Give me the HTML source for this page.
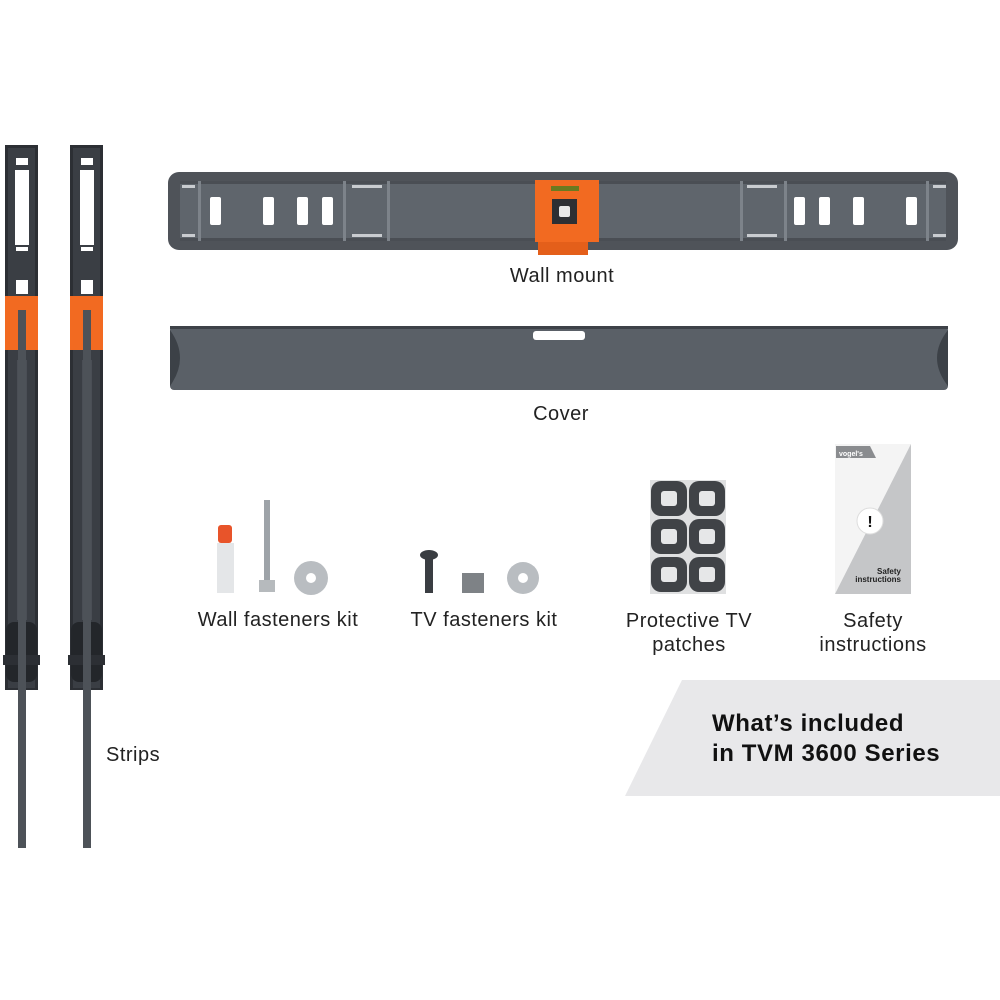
<!DOCTYPE html>
<html><head><style>
html,body{margin:0;padding:0;background:#fff}
svg{display:block}
text{font-family:"Liberation Sans",sans-serif}
.l{font-size:20px;letter-spacing:0.5px}
</style></head><body>
<svg width="1000" height="1000" viewBox="0 0 1000 1000" xmlns="http://www.w3.org/2000/svg">
<rect width="1000" height="1000" fill="#fff"/>
<!-- Strips -->
<g id="s1">
<rect x="5" y="145" width="33" height="545" fill="#2c2f34"/>
<rect x="8" y="148" width="27" height="540" fill="#3a3e44"/>
<rect x="16" y="158" width="12" height="7" fill="#fff"/>
<rect x="15" y="170" width="14" height="75" fill="#fff"/>
<rect x="16" y="247" width="12" height="4" fill="#fff"/>
<rect x="16" y="280" width="12" height="14" fill="#fff"/>
<rect x="17" y="360" width="10" height="260" fill="#4a4e55"/>
<rect x="5" y="296" width="33" height="54" fill="#f26a21"/>
<rect x="6" y="622" width="31" height="60" rx="8" fill="#23262a"/>
<rect x="3" y="655" width="37" height="10" fill="#2c2f34"/>
<rect x="18" y="310" width="8" height="538" fill="#4d5258"/>
</g>
<use href="#s1" x="65"/>
<text x="106" y="761" class="l" fill="#222">Strips</text>
<!-- Wall mount -->
<rect x="168" y="172" width="790" height="78" rx="11" fill="#4f5359"/>
<rect x="180" y="181" width="766" height="60" fill="#5f656c"/>
<rect x="180" y="181" width="766" height="3" fill="#4a4e54"/>
<rect x="180" y="238" width="766" height="3" fill="#4a4e54"/>
<g fill="#7d838a">
<rect x="198" y="181" width="3" height="60"/><rect x="343" y="181" width="3" height="60"/>
<rect x="387" y="181" width="3" height="60"/><rect x="740" y="181" width="3" height="60"/>
<rect x="784" y="181" width="3" height="60"/><rect x="926" y="181" width="3" height="60"/>
</g>
<g fill="#c9ccd0">
<rect x="182" y="185" width="13" height="3"/><rect x="182" y="234" width="13" height="3"/>
<rect x="352" y="185" width="30" height="3"/><rect x="352" y="234" width="30" height="3"/>
<rect x="747" y="185" width="30" height="3"/><rect x="747" y="234" width="30" height="3"/>
<rect x="933" y="185" width="13" height="3"/><rect x="933" y="234" width="13" height="3"/>
</g>
<g fill="#fff">
<rect x="210" y="197" width="11" height="28" rx="2"/><rect x="263" y="197" width="11" height="28" rx="2"/>
<rect x="297" y="197" width="11" height="28" rx="2"/><rect x="322" y="197" width="11" height="28" rx="2"/>
<rect x="794" y="197" width="11" height="28" rx="2"/><rect x="819" y="197" width="11" height="28" rx="2"/>
<rect x="853" y="197" width="11" height="28" rx="2"/><rect x="906" y="197" width="11" height="28" rx="2"/>
</g>
<rect x="538" y="240" width="50" height="15" fill="#e45f1a"/>
<rect x="535" y="180" width="64" height="62" fill="#f26a21"/>
<rect x="551" y="186" width="28" height="5" fill="#6a7a20"/>
<rect x="552" y="199" width="25" height="25" fill="#2d2f33"/>
<rect x="559" y="206" width="11" height="11" rx="2" fill="#e8e8e8"/>
<text x="562" y="282" class="l" fill="#222" text-anchor="middle">Wall mount</text>
<!-- Cover -->
<rect x="170" y="326" width="778" height="64" rx="4" fill="#5a6067"/>
<rect x="170" y="326" width="778" height="3" fill="#3e4248"/>
<path d="M170 330 Q190 358 170 386 Z" fill="#3c4147"/>
<path d="M948 330 Q926 358 948 386 Z" fill="#3c4147"/>
<rect x="533" y="331" width="52" height="9" rx="3" fill="#fff"/>
<text x="561" y="420" class="l" fill="#222" text-anchor="middle">Cover</text>
<!-- Wall fasteners -->
<rect x="218" y="525" width="14" height="18" rx="3" fill="#e8542a"/>
<rect x="217" y="543" width="17" height="50" fill="#e4e6e8"/>
<rect x="264" y="500" width="6" height="80" fill="#9ea3a8"/>
<rect x="259" y="580" width="16" height="12" fill="#b6babd"/>
<circle cx="311" cy="578" r="17" fill="#b9bdc1"/><circle cx="311" cy="578" r="5" fill="#fff"/>
<text x="278" y="626" class="l" fill="#222" text-anchor="middle">Wall fasteners kit</text>
<!-- TV fasteners -->
<ellipse cx="429" cy="555" rx="9" ry="5" fill="#3a3d42"/>
<rect x="425" y="555" width="8" height="38" fill="#3a3d42"/>
<rect x="462" y="573" width="22" height="20" fill="#7e8286"/>
<circle cx="523" cy="578" r="16" fill="#b9bdc1"/><circle cx="523" cy="578" r="5" fill="#fff"/>
<text x="484" y="626" class="l" fill="#222" text-anchor="middle">TV fasteners kit</text>
<!-- Patches -->
<rect x="650" y="480" width="76" height="114" fill="#dfe0e1"/>
<g fill="#404347">
<rect x="651" y="481" width="36" height="35" rx="10"/><rect x="689" y="481" width="36" height="35" rx="10"/>
<rect x="651" y="519" width="36" height="35" rx="10"/><rect x="689" y="519" width="36" height="35" rx="10"/>
<rect x="651" y="557" width="36" height="35" rx="10"/><rect x="689" y="557" width="36" height="35" rx="10"/>
</g>
<g fill="#e6e7e8">
<rect x="661" y="491" width="16" height="15" rx="3"/><rect x="699" y="491" width="16" height="15" rx="3"/>
<rect x="661" y="529" width="16" height="15" rx="3"/><rect x="699" y="529" width="16" height="15" rx="3"/>
<rect x="661" y="567" width="16" height="15" rx="3"/><rect x="699" y="567" width="16" height="15" rx="3"/>
</g>
<text x="689" y="627" class="l" fill="#222" text-anchor="middle">Protective TV</text>
<text x="689" y="651" class="l" fill="#222" text-anchor="middle">patches</text>
<!-- Safety card -->
<rect x="835" y="444" width="76" height="150" fill="#f4f4f4"/>
<path d="M911 444 L911 594 L835 594 Z" fill="#c5c6c8"/>
<path d="M836 446 L870 446 L876 458 L836 458 Z" fill="#8a8c8f"/>
<text x="839" y="456" font-size="7" fill="#fff" font-weight="bold">vogel's</text>
<circle cx="870" cy="521" r="13" fill="#fff" stroke="#ddd"/>
<text x="870" y="527" font-size="16" font-weight="bold" fill="#111" text-anchor="middle">!</text>
<text x="901" y="574" font-size="8" font-weight="bold" fill="#222" text-anchor="end">Safety</text>
<text x="901" y="582" font-size="8" font-weight="bold" fill="#222" text-anchor="end">instructions</text>
<text x="873" y="627" class="l" fill="#222" text-anchor="middle">Safety</text>
<text x="873" y="651" class="l" fill="#222" text-anchor="middle">instructions</text>
<!-- Banner -->
<path d="M682 680 L1000 680 L1000 796 L625 796 Z" fill="#e8e8ea"/>
<text x="712" y="731" font-size="24" font-weight="bold" letter-spacing="0.6" fill="#111">What’s included</text>
<text x="712" y="761" font-size="24" font-weight="bold" letter-spacing="0.6" fill="#111">in TVM 3600 Series</text>
</svg>
</body></html>
